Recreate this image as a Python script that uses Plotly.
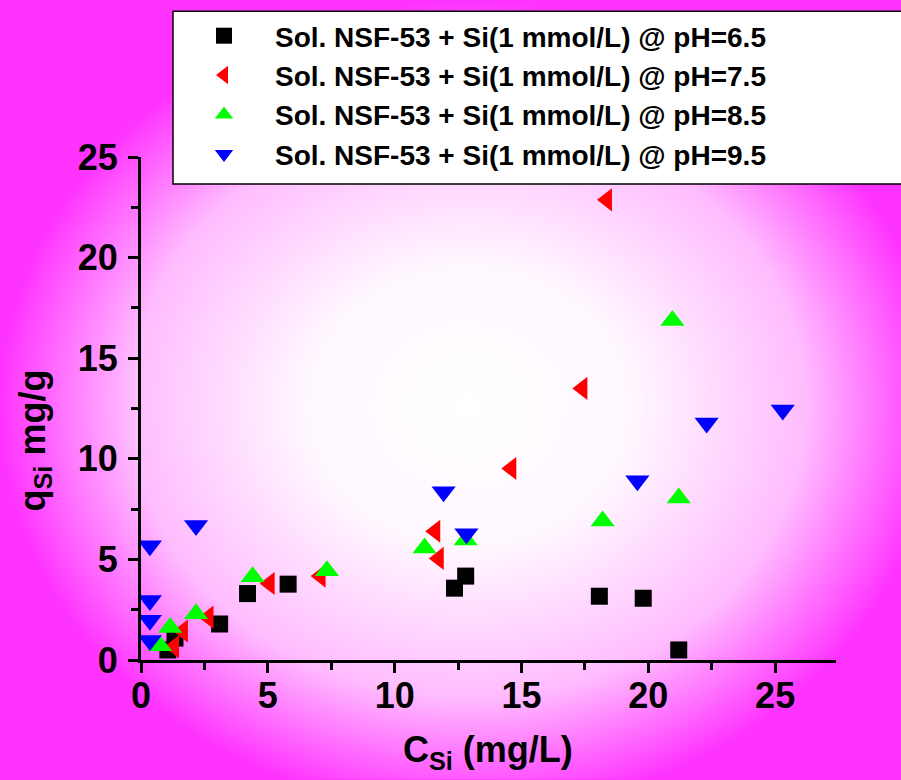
import base64
import plotly.graph_objects as go

# ---- data ----
names = [
    "Sol. NSF-53 + Si(1 mmol/L) @ pH=6.5",
    "Sol. NSF-53 + Si(1 mmol/L) @ pH=7.5",
    "Sol. NSF-53 + Si(1 mmol/L) @ pH=8.5",
    "Sol. NSF-53 + Si(1 mmol/L) @ pH=9.5",
]
x65 = [1.06, 1.34, 3.1, 4.2, 5.8, 12.36, 12.8, 18.07, 19.8, 21.2]
y65 = [0.5, 1.09, 1.79, 3.3, 3.77, 3.57, 4.17, 3.17, 3.07, 0.5]

x75 = [1.3, 1.65, 2.66, 5.07, 7.08, 11.6, 11.74, 14.6, 17.4, 18.37]
y75 = [0.66, 1.44, 2.13, 3.8, 4.17, 6.4, 5.05, 9.52, 13.5, 22.87]

x85 = [0.75, 1.15, 2.17, 4.4, 7.33, 11.18, 12.8, 18.2, 21.2, 20.95]
y85 = [0.71, 1.61, 2.3, 4.14, 4.43, 5.57, 5.97, 6.91, 8.05, 16.87]

x95 = [0.35, 0.35, 0.35, 0.35, 2.17, 11.93, 12.83, 19.57, 22.3, 25.3]
y95 = [5.68, 2.96, 1.97, 0.97, 6.68, 8.36, 6.28, 8.91, 11.78, 12.43]

xticks = [0, 5, 10, 15, 20, 25]
yticks = [0, 5, 10, 15, 20, 25]

# ---- layout geometry ----
W, H = 901, 780
ML, MR, MT, MB = 141, 65, 156, 120
PW, PH = W - ML - MR, H - MT - MB

def px_x(p):
    return (p - ML) / PW

def px_y(p):
    return (H - MB - p) / PH

FONT = "Liberation Sans, Arial, sans-serif"

series = [
    (x65, y65, "square", "#000000", 17),
    (x75, y75, "triangle-left", "#ff0000", 20),
    (x85, y85, "triangle-up", "#00ff00", 21),
    (x95, y95, "triangle-down", "#0000ff", 21),
]

fig = go.Figure()
for (xs, ys, sym, col, sz), nm in zip(series, names):
    fig.add_trace(go.Scatter(
        x=xs, y=ys, mode="markers", name=nm, cliponaxis=False,
        marker=dict(symbol=sym, color=col, size=sz, line=dict(width=0)),
    ))

svg = (
    '<svg xmlns="http://www.w3.org/2000/svg" width="901" height="780" '
    'preserveAspectRatio="none" viewBox="0 0 901 780">'
    '<defs><radialGradient id="g" cx="0.52" cy="0.52" r="0.52">'
    '<stop offset="0" stop-color="#ffffff"/>'
    '<stop offset="0.35" stop-color="#fff7ff"/>'
    '<stop offset="0.72" stop-color="#ffbcff"/>'
    '<stop offset="1" stop-color="#ff33ff"/>'
    '</radialGradient></defs>'
    '<rect width="901" height="780" fill="url(#g)"/></svg>'
)
src = "data:image/svg+xml;base64," + base64.b64encode(svg.encode()).decode()

axis_common = dict(
    showline=True, linecolor="black", linewidth=3,
    ticks="outside", ticklen=10, tickwidth=3, tickcolor="black",
    showgrid=False, zeroline=False, automargin=False,
    tickfont=dict(family=FONT, size=36, color="black", weight="bold"),
    minor=dict(ticks="outside", ticklen=7, tickwidth=3, tickcolor="black", dtick=2.5),
)

fig.update_layout(
    width=W, height=H,
    margin=dict(l=ML, r=MR, t=MT, b=MB),
    paper_bgcolor="#ff33ff",
    plot_bgcolor="rgba(0,0,0,0)",
    showlegend=True,
    xaxis=dict(range=[0, 27.4], tickvals=xticks, ticklabelstandoff=-8, **axis_common),
    yaxis=dict(range=[0, 25], tickvals=yticks, ticklabelstandoff=3, **axis_common),
    legend=dict(
        x=px_x(173), y=px_y(11), xanchor="left", yanchor="top",
        bgcolor="rgba(0,0,0,0)", borderwidth=0,
        itemwidth=92, tracegroupgap=0,
        font=dict(family=FONT, size=28, color="black", weight="bold"),
    ),
    images=[dict(source=src, xref="paper", yref="paper",
                 x=px_x(0), y=px_y(0), sizex=W / PW, sizey=H / PH,
                 xanchor="left", yanchor="top", sizing="stretch", layer="below")],
    shapes=[dict(type="rect", xref="paper", yref="paper",
                 x0=px_x(173), x1=px_x(910), y0=px_y(183), y1=px_y(10),
                 fillcolor="white", line=dict(color="black", width=1.5), layer="below")],
    annotations=[
        dict(text="q<sub>Si</sub> mg/g", textangle=-90,
             xref="paper", yref="paper", x=px_x(35), y=px_y(440),
             xanchor="center", yanchor="middle", showarrow=False,
             font=dict(family=FONT, size=36, color="black", weight="bold")),
        dict(text="C<sub>Si</sub> (mg/L)",
             xref="paper", yref="paper", x=px_x(488), y=px_y(752),
             xanchor="center", yanchor="middle", showarrow=False,
             font=dict(family=FONT, size=36, color="black", weight="bold")),
    ],
)

fig.write_html("out.html")
